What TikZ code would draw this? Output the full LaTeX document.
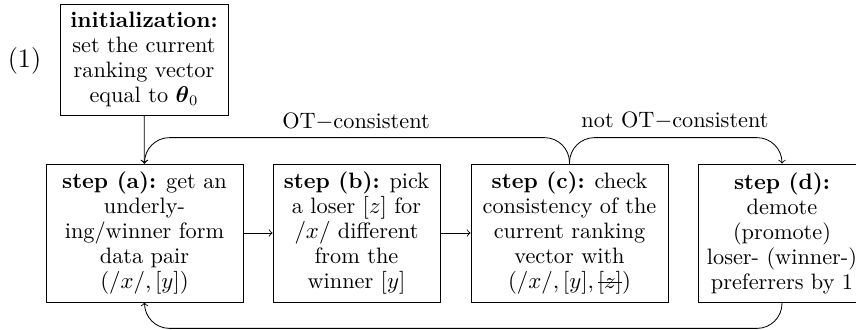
\documentclass[tikz,border=0pt]{standalone}
\usepackage{amsmath,amsbsy}
\newcommand\strk[1]{\sbox0{#1}\rlap{\rule[0.55ex]{\wd0}{0.4pt}}\usebox0}
\tikzset{
  every node/.style={font=\fontsize{10.7pt}{12pt}\selectfont},
  box/.style={draw, align=center, inner sep=2pt, minimum height=66.2pt},
  arr/.style={->},
  lbl/.style={anchor=base, inner sep=0pt}
}
\begin{document}
\begin{tikzpicture}[x=0.48pt, y=-0.48pt]
\useasboundingbox (0,0) rectangle (856,329);
\clip (0,0) rectangle (856,329);
\node[box, minimum width=80.6pt, minimum height=53.3pt] (init) at (144,59.5)
  {\textbf{initialization:}\\set the current\\ranking vector\\equal to $\boldsymbol{\theta}_0$};
\node[font=\fontsize{12.8pt}{15pt}\selectfont] (one) at (24.5,61) {(1)};
\node[box, minimum width=94.6pt] (a) at (144.5,233)
  {\textbf{step (a):} get an\\underly-\\ing/winner form\\data pair\\$(/x/,[y])$};
\node[box, minimum width=80.2pt] (b) at (356.5,233)
  {\textbf{step (b):} pick\\a loser $[z]$ for\\$/x/$ different\\from the\\winner $[y]$};
\node[box, minimum width=94.6pt] (c) at (569.5,233)
  {\textbf{step (c):} check\\consistency of the\\current ranking\\vector with\\$(/x/,[y],\strk{$[z]$})$};
\node[box, minimum width=80.6pt] (d) at (782,233)
  {\textbf{step (d):}\\demote\\(promote)\\loser- (winner-)\\preferrers by 1};
\draw[arr] (init) -- (a);
\draw[arr] (a) -- (b);
\draw[arr] (b) -- (c);
\draw[arr, rounded corners=12pt] (c.north) -- ++(0,-26) -| (a.north);
\draw[arr, rounded corners=12pt] (c.north) -- ++(0,-26) -| (d.north);
\draw[arr, rounded corners=12pt] (d.south) -- ++(0,26) -| (a.south);
\node[lbl] (ok) at (356,128) {OT$-$consistent};
\node[lbl] (nok) at (675,127.5) {not OT$-$consistent};
\end{tikzpicture}
\end{document}
